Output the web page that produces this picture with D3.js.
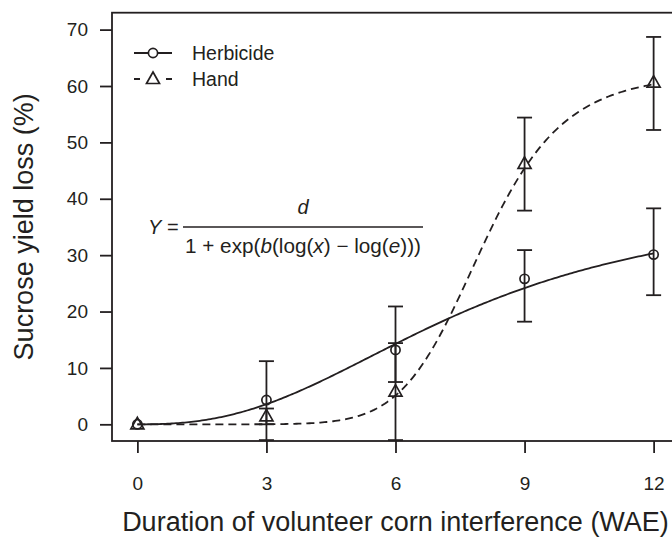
<!DOCTYPE html>
<html>
<head>
<meta charset="utf-8">
<script src="https://cdn.jsdelivr.net/npm/d3@7"></script>
<style>
  body { margin: 0; background: #fff; }
  svg { display: block; font-family: "Liberation Sans", Arial, sans-serif; }
  .axis text { font-size: 19px; fill: #231f20; }
  .axis line { stroke: #231f20; stroke-width: 1.8; }
  .title { font-size: 27px; fill: #231f20; }
  .legend text { font-size: 19.5px; fill: #231f20; }
  .eq { font-size: 20px; fill: #231f20; }
</style>
</head>
<body>
<svg class="chart" width="672" height="540"></svg>
<script>
const weeks = [0, 3, 6, 9, 12]

const herbicideLoss = [0, 4.3, 13.2, 25.8, 30.1]
const herbicideLow = [0, -2.8, 7.5, 18.2, 22.9]
const herbicideHigh = [0, 11.2, 20.9, 30.9, 38.3]

const handLoss = [0, 1.4, 5.8, 46.2, 60.6]
const handLow = [0, 0, -2.8, 37.9, 52.2]
const handHigh = [0, 2.8, 14.4, 54.4, 68.7]

// fitted log-logistic parameters: b, d, e
const herbicideFit = [-2.5, 40, 7.6]
const handFit = [-8.4, 62.3, 8.0]

const xTicks = [0, 3, 6, 9, 12]
const yTicks = [0, 10, 20, 30, 40, 50, 60, 70]

const ink = '#231f20'

const x = d3.scaleLinear().domain([-0.59, 12.59]).range([112, 679])
const y = d3.scaleLinear().domain([-2.96, 73]).range([441, 12.7])

const svg = d3.select('svg.chart')

// axes
svg.append('g')
  .attr('class', 'axis')
  .attr('transform', 'translate(112,0)')
  .call(d3.axisLeft(y).tickValues(yTicks).tickSize(12).tickPadding(12))
  .call(g => g.select('.domain').remove())

svg.append('g')
  .attr('class', 'axis')
  .attr('transform', 'translate(0,441)')
  .call(d3.axisBottom(x).tickValues(xTicks).tickSize(12).tickPadding(24))
  .call(g => g.select('.domain').remove())

// frame
svg.append('rect')
  .attr('x', x.range()[0])
  .attr('y', y.range()[1])
  .attr('width', x.range()[1] - x.range()[0])
  .attr('height', y.range()[0] - y.range()[1])
  .attr('fill', 'none')
  .attr('stroke', ink)
  .attr('stroke-width', 1.8)

// titles
svg.append('text')
  .attr('class', 'title')
  .attr('x', (x.range()[0] + x.range()[1]) / 2)
  .attr('y', 531)
  .attr('text-anchor', 'middle')
  .text('Duration of volunteer corn interference (WAE)')

svg.append('text')
  .attr('class', 'title')
  .attr('transform', `translate(33,${(y.range()[0] + y.range()[1]) / 2}) rotate(-90)`)
  .attr('text-anchor', 'middle')
  .text('Sucrose yield loss (%)')

// fitted curves
const logLogistic = (p, t) => t <= 0 ? 0 : p[1] / (1 + Math.exp(p[0] * (Math.log(t) - Math.log(p[2]))))
const curveX = d3.range(0, 12.001, 0.05)
const line = d3.line().x(d => x(d[0])).y(d => y(d[1]))

svg.append('path')
  .attr('d', line(curveX.map(t => [t, logLogistic(herbicideFit, t)])))
  .attr('fill', 'none')
  .attr('stroke', ink)
  .attr('stroke-width', 1.8)

svg.append('path')
  .attr('d', line(curveX.map(t => [t, logLogistic(handFit, t)])))
  .attr('fill', 'none')
  .attr('stroke', ink)
  .attr('stroke-width', 1.8)
  .attr('stroke-dasharray', '8,5')

// error bars
const capHalf = 7.5
function errorBars(lo, hi) {
  const g = svg.append('g')
    .attr('stroke', ink)
    .attr('stroke-width', 1.8)
  const bars = g.selectAll('g')
    .data(weeks.map((w, i) => ({ w, lo: lo[i], hi: hi[i] })).filter(d => d.hi > d.lo))
    .enter()
    .append('g')
  bars.append('line')
    .attr('x1', d => x(d.w)).attr('x2', d => x(d.w))
    .attr('y1', d => y(d.lo)).attr('y2', d => y(d.hi))
  bars.append('line')
    .attr('x1', d => x(d.w) - capHalf).attr('x2', d => x(d.w) + capHalf)
    .attr('y1', d => y(d.hi)).attr('y2', d => y(d.hi))
  bars.append('line')
    .attr('x1', d => x(d.w) - capHalf).attr('x2', d => x(d.w) + capHalf)
    .attr('y1', d => y(d.lo)).attr('y2', d => y(d.lo))
}
errorBars(herbicideLow, herbicideHigh)
errorBars(handLow, handHigh)

// markers
const trianglePath = 'M0,-7L6.5,4.5L-6.5,4.5Z'

svg.append('g')
  .selectAll('circle')
  .data(herbicideLoss)
  .enter()
  .append('circle')
  .attr('cx', (d, i) => x(weeks[i]))
  .attr('cy', d => y(d))
  .attr('r', 4.6)
  .attr('fill', 'none')
  .attr('stroke', ink)
  .attr('stroke-width', 1.7)

svg.append('g')
  .selectAll('path')
  .data(handLoss)
  .enter()
  .append('path')
  .attr('d', trianglePath)
  .attr('transform', (d, i) => `translate(${x(weeks[i])},${y(d)})`)
  .attr('fill', 'none')
  .attr('stroke', ink)
  .attr('stroke-width', 1.7)

// legend
const legend = svg.append('g').attr('class', 'legend')

legend.append('line')
  .attr('x1', 134).attr('x2', 172).attr('y1', 53).attr('y2', 53)
  .attr('stroke', ink).attr('stroke-width', 1.8)
legend.append('circle')
  .attr('cx', 153).attr('cy', 53).attr('r', 4.6)
  .attr('fill', '#fff').attr('stroke', ink).attr('stroke-width', 1.7)
legend.append('text').attr('x', 192).attr('y', 60).text('Herbicide')

legend.append('line')
  .attr('x1', 134).attr('x2', 172).attr('y1', 79).attr('y2', 79)
  .attr('stroke', ink).attr('stroke-width', 1.8)
  .attr('stroke-dasharray', '6,26,6')
legend.append('path')
  .attr('d', trianglePath)
  .attr('transform', 'translate(153,79)')
  .attr('fill', 'none').attr('stroke', ink).attr('stroke-width', 1.7)
legend.append('text').attr('x', 192).attr('y', 86).text('Hand')

// model equation
const eq = svg.append('g').attr('class', 'eq')

const lhs = eq.append('text').attr('x', 148).attr('y', 234)
lhs.append('tspan').attr('font-style', 'italic').text('Y')
lhs.append('tspan').text(' =')

eq.append('line')
  .attr('x1', 183).attr('x2', 423).attr('y1', 227).attr('y2', 227)
  .attr('stroke', ink).attr('stroke-width', 1.6)

eq.append('text')
  .attr('x', 303).attr('y', 214)
  .attr('text-anchor', 'middle')
  .attr('font-style', 'italic')
  .text('d')

const den = eq.append('text')
  .attr('x', 303).attr('y', 253)
  .attr('text-anchor', 'middle')
  .attr('textLength', 236)
  .attr('lengthAdjust', 'spacingAndGlyphs')
const denParts = [
  ['1 + exp(', false], ['b', true], ['(log(', false], ['x', true],
  [') \u2212 log(', false], ['e', true], [')))', false]
]
denParts.forEach(p => {
  den.append('tspan')
    .attr('font-style', p[1] ? 'italic' : null)
    .text(p[0])
})
</script>
</body>
</html>
